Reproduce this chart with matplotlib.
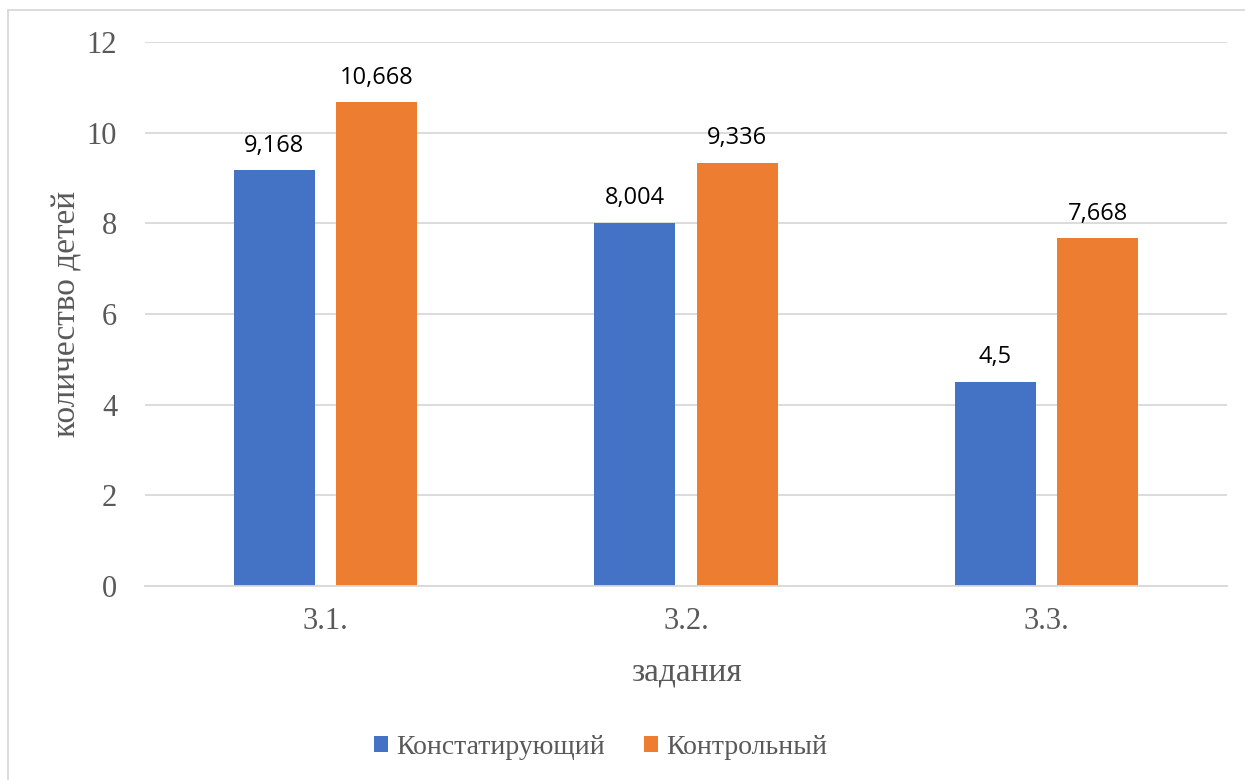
import matplotlib.pyplot as plt
import numpy as np
from matplotlib.lines import Line2D

# Данные диаграммы
zadaniya = ["3.1.", "3.2.", "3.3."]
konstatiruyushchiy = [9.168, 8.004, 4.5]
kontrolnyy = [10.668, 9.336, 7.668]
podpisi_k = ["9,168", "8,004", "4,5"]
podpisi_kontr = ["10,668", "9,336", "7,668"]
y_ticks = [0, 2, 4, 6, 8, 10, 12]

blue = "#4472c4"
orange = "#ed7d31"
grid_color = "#d9d9d9"
text_gray = "#595959"

plt.rcParams["font.family"] = "serif"
plt.rcParams["font.serif"] = ["Liberation Serif", "Times New Roman", "DejaVu Serif"]

fig = plt.figure(figsize=(12.45, 7.8), dpi=100)
ax = fig.add_axes([145 / 1245, 1 - 586 / 780, 1082 / 1245, 544 / 780])

x = np.arange(len(zadaniya))
w = 0.225
b1 = ax.bar(x - 0.142, konstatiruyushchiy, w, color=blue, label="Констатирующий")
b2 = ax.bar(x + 0.142, kontrolnyy, w, color=orange, label="Контрольный")

# подписи значений над столбцами
for bars, labels in ((b1, podpisi_k), (b2, podpisi_kontr)):
    for rect, lab in zip(bars, labels):
        ax.annotate(lab, (rect.get_x() + rect.get_width() / 2, rect.get_height()),
                    xytext=(0, 13.5), textcoords="offset points",
                    ha="center", va="baseline", fontsize=17,
                    family=["Open Sans", "DejaVu Sans"], color="black")

ax.set_xlim(-0.5, 2.5)
ax.set_ylim(0, 12)
ax.set_yticks(y_ticks)
ax.set_xticks(x)
ax.set_xticklabels(zadaniya)
ax.grid(axis="y", color=grid_color, linewidth=1.3)
ax.set_axisbelow(True)
for s in ["top", "right", "left"]:
    ax.spines[s].set_visible(False)
ax.spines["bottom"].set_color(grid_color)
ax.spines["bottom"].set_linewidth(1.3)
ax.tick_params(length=0, labelsize=22, labelcolor=text_gray)
ax.tick_params(axis="y", pad=20)
ax.tick_params(axis="x", pad=15)

ax.set_ylabel("количество детей", fontsize=24, color=text_gray)
ax.yaxis.set_label_coords(-0.072, 0.5)
ax.yaxis.label.set_va("center")
ax.set_xlabel("задания", fontsize=24, color=text_gray)
ax.xaxis.set_label_coords(0.5, -0.158)
ax.xaxis.label.set_va("center")

leg = fig.legend(loc="center", bbox_to_anchor=(601 / 1245, 1 - 747 / 780), ncol=2,
                 frameon=False, handlelength=0.5, handleheight=0.5,
                 handletextpad=0.3, columnspacing=1.4, fontsize=20)
for t in leg.get_texts():
    t.set_color(text_gray)

# рамка области диаграммы
fig.add_artist(Line2D([8 / 1245, 1], [1 - 10 / 780] * 2, color=grid_color, lw=1.3,
                      transform=fig.transFigure))
fig.add_artist(Line2D([8 / 1245] * 2, [0, 1 - 10 / 780], color=grid_color, lw=1.3,
                      transform=fig.transFigure))

fig.savefig("out.png", dpi=100)
